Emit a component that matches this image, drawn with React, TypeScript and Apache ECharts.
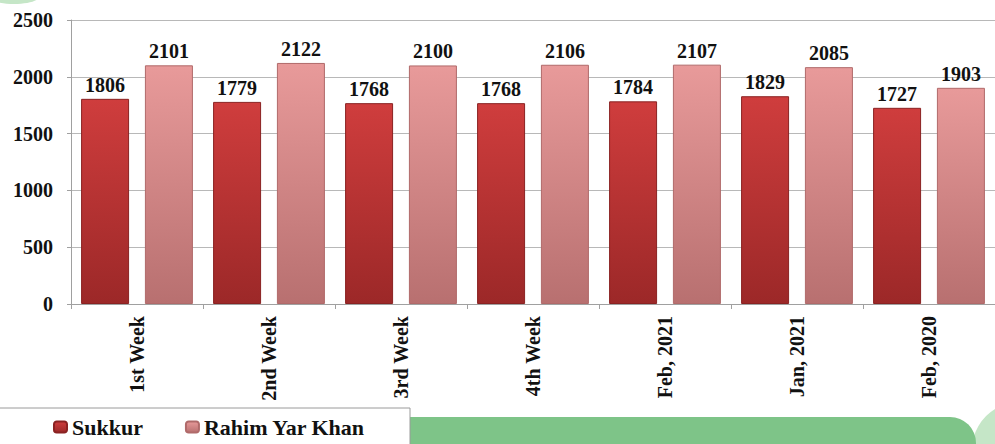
import React, { useEffect, useRef } from "react";
import * as echarts from "echarts";

const categories = ["1st Week", "2nd Week", "3rd Week", "4th Week", "Feb, 2021", "Jan, 2021", "Feb, 2020"];
const sukkur = [1806, 1779, 1768, 1768, 1784, 1829, 1727];
const rahimYarKhan = [2101, 2122, 2100, 2106, 2107, 2085, 1903];
const yTicks = { min: 0, max: 2500, interval: 500 };

const FONT = "'Liberation Serif', 'Times New Roman', serif";

export default function App() {
  const ref = useRef<HTMLDivElement>(null);
  useEffect(() => {
    if (!ref.current) return;
    const chart = echarts.init(ref.current, undefined, { renderer: "svg" });
    const grad = (top: string, bottom: string) =>
      new echarts.graphic.LinearGradient(0, 0, 0, 1, [
        { offset: 0, color: top },
        { offset: 1, color: bottom },
      ]);
    const valueLabel = {
      show: true,
      position: "top",
      distance: 4,
      fontFamily: FONT,
      fontWeight: "bold",
      fontSize: 20,
      color: "#111",
    };
    chart.setOption({
      animation: false,
      backgroundColor: "#ffffff",
      grid: { left: 71, top: 20, width: 938, height: 284, containLabel: false },
      legend: {
        left: 53,
        top: 416,
        padding: 0,
        itemWidth: 13,
        itemHeight: 11,
        itemGap: 42,
        textStyle: { fontFamily: FONT, fontWeight: "bold", fontSize: 22, lineHeight: 22, color: "#111" },
        data: ["Sukkur", "Rahim Yar Khan"],
      },
      xAxis: {
        type: "category",
        data: categories,
        axisLine: { lineStyle: { color: "#a0a0a0" } },
        axisTick: { show: true, length: 5, lineStyle: { color: "#a0a0a0" } },
        axisLabel: {
          rotate: 90,
          margin: 12,
          fontFamily: FONT,
          fontWeight: "bold",
          fontSize: 20,
          color: "#111",
        },
      },
      yAxis: {
        type: "value",
        min: yTicks.min,
        max: yTicks.max,
        interval: yTicks.interval,
        axisLine: { show: true, lineStyle: { color: "#a0a0a0" } },
        axisTick: { show: true, length: 4, lineStyle: { color: "#a0a0a0" } },
        splitLine: { lineStyle: { color: "#b8b8b8" } },
        axisLabel: {
          margin: 18,
          fontFamily: FONT,
          fontWeight: "bold",
          fontSize: 20,
          color: "#111",
          formatter: (v: number) => String(v),
        },
      },
      series: [
        {
          name: "Sukkur",
          type: "bar",
          data: sukkur,
          barWidth: 48,
          barGap: "33%",
          itemStyle: { color: grad("#cf3d3d", "#9c2828"), borderColor: "#8a2222", borderWidth: 1 },
          label: valueLabel,
        },
        {
          name: "Rahim Yar Khan",
          type: "bar",
          data: rahimYarKhan,
          barWidth: 48,
          itemStyle: { color: grad("#e89a9a", "#b87070"), borderColor: "#b06a6a", borderWidth: 1 },
          label: valueLabel,
        },
      ],
      graphic: [
        {
          type: "circle",
          z: -3,
          shape: { cx: 1020, cy: 450, r: 48 },
          style: { fill: "#c5e6c7" },
        },
        {
          type: "rect",
          z: -1,
          shape: { x: 410, y: 417, width: 566, height: 30, r: [0, 26, 0, 0] },
          style: { fill: "#7ec488" },
        },
        {
          type: "ellipse",
          z: -2,
          shape: { cx: 14, cy: -4, rx: 26, ry: 8 },
          style: { fill: "#c5e6c7" },
        },
        {
          type: "rect",
          z: 0,
          shape: { x: -2, y: 408, width: 412, height: 40 },
          style: { fill: "#ffffff", stroke: "#9a9a9a", lineWidth: 1 },
        },
      ],
    });
    return () => chart.dispose();
  }, []);
  return (
    <div
      ref={ref}
      style={{ position: "fixed", left: 0, top: 0, width: 995, height: 444 }}
    />
  );
}
